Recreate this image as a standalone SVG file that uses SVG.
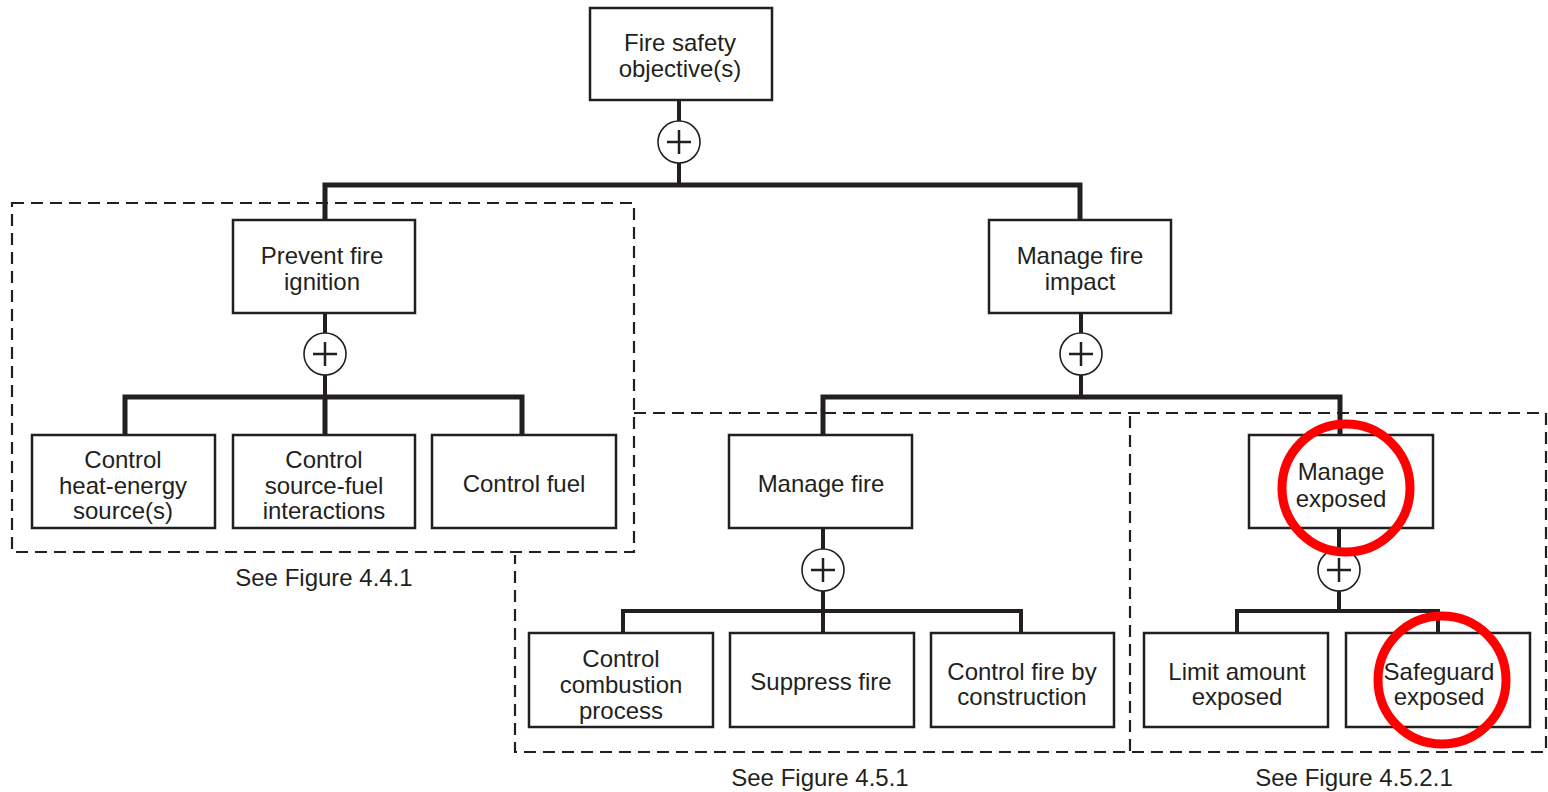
<svg xmlns="http://www.w3.org/2000/svg" width="1548" height="792" viewBox="0 0 1548 792">
<style>
.bx{fill:#fff;stroke:#231f20;stroke-width:2.5}
.t{font-family:"Liberation Sans",Arial,sans-serif;font-size:24px;fill:#231f20;text-anchor:middle}
.c{stroke:#231f20;fill:none;stroke-linecap:butt}
.th{stroke-width:5}
.md{stroke-width:4}
.op{fill:#fff;stroke:#231f20;stroke-width:1.6}
.pl{stroke:#231f20;stroke-width:2.5;fill:none}
.dash{fill:none;stroke:#231f20;stroke-width:2.2;stroke-dasharray:12 7}
.red{fill:none;stroke:#ff0000;stroke-width:9}
</style>
<rect width="1548" height="792" fill="#fff"/>
<g id="groups">
<path class="dash" d="M634 413 H1546 V752 H515 V555"/>
<path class="dash" d="M1130 416 V752"/>
<rect class="dash" x="12" y="203" width="622" height="349" fill="#fff"/>
<text class="t" x="324" y="586">See Figure 4.4.1</text>
<text class="t" x="820" y="786">See Figure 4.5.1</text>
<text class="t" x="1354" y="786">See Figure 4.5.2.1</text>
</g>
<g id="connectors">
<path class="c md" d="M679 100 V121 M679 163 V185"/>
<path class="c th" d="M325 220 V185 H1080 V220"/>
<path class="c md" d="M325 313 V333 M325 375 V397"/>
<path class="c th" d="M125 435 V397 H522 V435 M325 397 V435"/>
<path class="c md" d="M1081 313 V333 M1081 375 V397"/>
<path class="c th" d="M823 435 V397 H1340 V435"/>
<path class="c md" d="M823 528 V549 M823 591 V611"/>
<path class="c md" d="M623 633 V611 H1021 V633 M823 611 V633"/>
<path class="c md" d="M1339 528 V549 M1339 591 V611"/>
<path class="c md" d="M1237 633 V611 H1438 V633"/>
</g>
<g id="op1"><circle class="op" cx="679" cy="142" r="21"/><path class="pl" d="M667 142 H691 M679 130 V154"/></g>
<g id="op2"><circle class="op" cx="325" cy="354" r="21"/><path class="pl" d="M313 354 H337 M325 342 V366"/></g>
<g id="op3"><circle class="op" cx="1081" cy="354" r="21"/><path class="pl" d="M1069 354 H1093 M1081 342 V366"/></g>
<g id="op4"><circle class="op" cx="823" cy="570" r="21"/><path class="pl" d="M811 570 H835 M823 558 V582"/></g>
<g id="op5"><circle class="op" cx="1339" cy="570" r="21"/><path class="pl" d="M1327 570 H1351 M1339 558 V582"/></g>
<g id="n-objective"><rect class="bx" x="590" y="8" width="182" height="92"/><text class="t" x="680" y="51">Fire safety</text><text class="t" x="680" y="77">objective(s)</text></g>
<g id="n-prevent"><rect class="bx" x="233" y="220" width="182" height="93"/><text class="t" x="322" y="264">Prevent fire</text><text class="t" x="322" y="290">ignition</text></g>
<g id="n-impact"><rect class="bx" x="989" y="220" width="182" height="93"/><text class="t" x="1080" y="264">Manage fire</text><text class="t" x="1080" y="290">impact</text></g>
<g id="n-heat"><rect class="bx" x="32" y="435" width="183" height="93"/><text class="t" x="123" y="468">Control</text><text class="t" x="123" y="494">heat-energy</text><text class="t" x="123" y="519">source(s)</text></g>
<g id="n-sourcefuel"><rect class="bx" x="233" y="435" width="182" height="93"/><text class="t" x="324" y="468">Control</text><text class="t" x="324" y="494">source-fuel</text><text class="t" x="324" y="519">interactions</text></g>
<g id="n-fuel"><rect class="bx" x="432" y="435" width="184" height="93"/><text class="t" x="524" y="492">Control fuel</text></g>
<g id="n-managefire"><rect class="bx" x="729" y="435" width="183" height="93"/><text class="t" x="821" y="492">Manage fire</text></g>
<g id="n-exposed"><rect class="bx" x="1249" y="435" width="184" height="93"/><text class="t" x="1341" y="480">Manage</text><text class="t" x="1341" y="507">exposed</text></g>
<g id="n-combustion"><rect class="bx" x="529" y="633" width="184" height="94"/><text class="t" x="621" y="667">Control</text><text class="t" x="621" y="693">combustion</text><text class="t" x="621" y="719">process</text></g>
<g id="n-suppress"><rect class="bx" x="730" y="633" width="184" height="94"/><text class="t" x="821" y="690">Suppress fire</text></g>
<g id="n-construction"><rect class="bx" x="931" y="633" width="183" height="94"/><text class="t" x="1022" y="680">Control fire by</text><text class="t" x="1022" y="705">construction</text></g>
<g id="n-limit"><rect class="bx" x="1144" y="633" width="184" height="94"/><text class="t" x="1237" y="680">Limit amount</text><text class="t" x="1237" y="705">exposed</text></g>
<g id="n-safeguard"><rect class="bx" x="1346" y="633" width="184" height="94"/><text class="t" x="1439" y="680">Safeguard</text><text class="t" x="1439" y="705">exposed</text></g>
<g id="highlights">
<circle class="red" cx="1346" cy="488" r="64"/>
<circle class="red" cx="1442" cy="680" r="64"/>
</g>
</svg>
